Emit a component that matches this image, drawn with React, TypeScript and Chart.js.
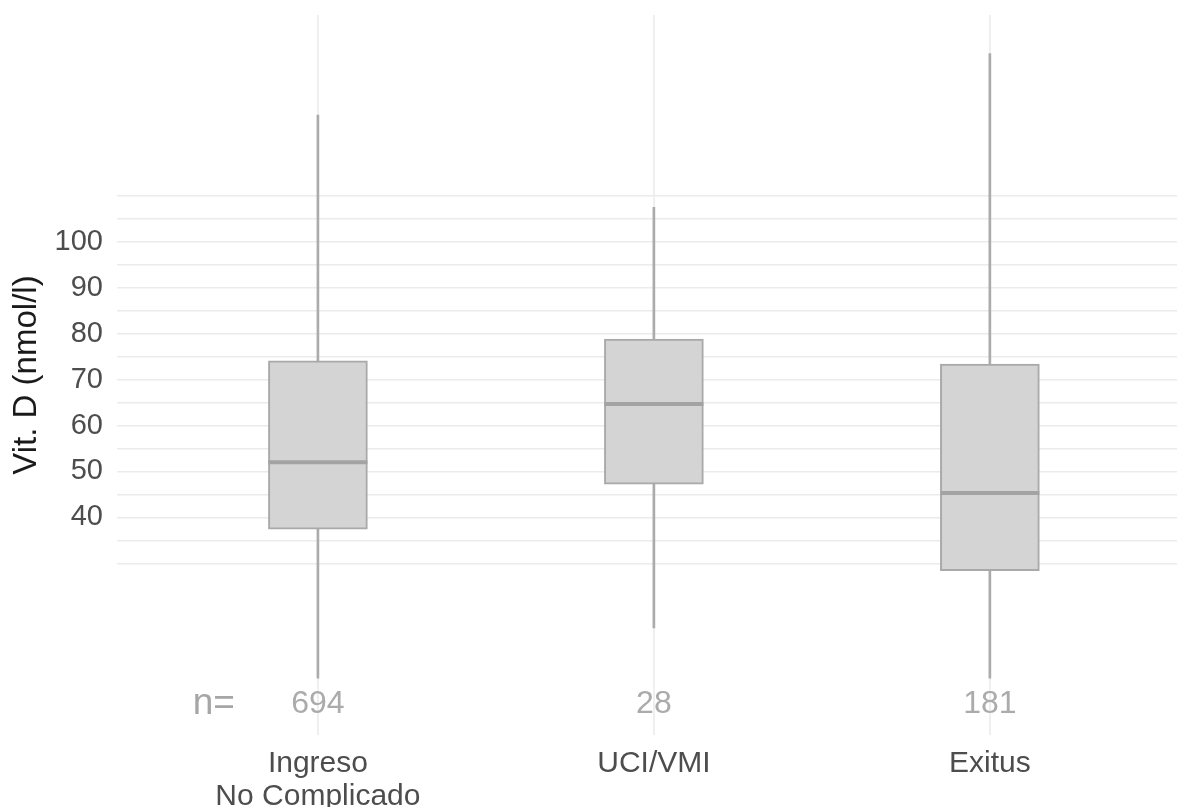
import React, { useEffect, useRef } from "react";
import { Chart, registerables } from "chart.js";

Chart.register(...registerables);

const categories: string[][] = [["Ingreso", "No Complicado"], ["UCI/VMI"], ["Exitus"]];
const positions = [1, 2, 3];
const whiskerLow = [5.0, 15.9, 5.0];
const whiskerHigh = [127.6, 107.5, 141.0];
const q1 = [37.4, 47.2, 28.4];
const median = [52.0, 64.7, 45.3];
const q3 = [74.1, 78.8, 73.4];
const nCounts = ["694", "28", "181"];
const nPrefix = "n=";
const gridValues = [30, 35, 40, 45, 50, 55, 60, 65, 70, 75, 80, 85, 90, 95, 100, 105, 110];
const labelledValues = [40, 50, 60, 70, 80, 90, 100];

const FONT = "'Liberation Sans', Arial, Helvetica, sans-serif";

const nLabelsPlugin = {
  id: "nLabels",
  afterDatasetsDraw(chart: any) {
    const { ctx, chartArea, scales } = chart;
    const y = chartArea.bottom - 31;
    ctx.save();
    ctx.textAlign = "center";
    ctx.textBaseline = "middle";
    ctx.fillStyle = "#a6a6a6";
    ctx.font = `37px ${FONT}`;
    ctx.fillText(nPrefix, scales.x.getPixelForValue(0.69), y);
    ctx.fillStyle = "#ababab";
    ctx.font = `32px ${FONT}`;
    nCounts.forEach((n, i) => {
      ctx.fillText(n, scales.x.getPixelForValue(positions[i]), y);
    });
    ctx.restore();
  },
};

export default function App() {
  const ref = useRef<HTMLCanvasElement | null>(null);
  useEffect(() => {
    if (!ref.current) return;
    const chart = new Chart(ref.current, {
      type: "bar",
      data: {
        datasets: [
          {
            type: "line",
            label: "median",
            data: positions.map((x, i) => ({ x, y: median[i] })),
            showLine: false,
            pointStyle: "line",
            pointRadius: 49.5,
            pointBorderWidth: 4,
            pointBorderColor: "#a3a3a3",
            pointBackgroundColor: "#a3a3a3",
            order: 1,
          } as any,
          {
            label: "box",
            data: positions.map((x, i) => ({ x, y: [q1[i], q3[i]] })),
            backgroundColor: "#d4d4d4",
            borderColor: "#a9a9a9",
            borderWidth: 2,
            borderSkipped: false,
            barThickness: 99,
            grouped: false,
            order: 2,
          } as any,
          {
            label: "whisker",
            data: positions.map((x, i) => ({ x, y: [whiskerLow[i], whiskerHigh[i]] })),
            backgroundColor: "#ababab",
            borderWidth: 0,
            barThickness: 2,
            grouped: false,
            order: 3,
          } as any,
        ],
      },
      options: {
        responsive: false,
        animation: false,
        events: [],
        layout: { autoPadding: false, padding: { left: 0, right: 0, top: 15, bottom: 0 } },
        plugins: { legend: { display: false }, tooltip: { enabled: false } },
        scales: {
          x: {
            type: "linear",
            min: 0.402,
            max: 3.557,
            offset: false,
            afterBuildTicks: (scale: any) => {
              scale.ticks = positions.map((v) => ({ value: v }));
            },
            afterFit: (scale: any) => {
              scale.height = 72;
              scale.paddingLeft = 0;
              scale.paddingRight = 0;
              scale.paddingTop = 0;
              scale.paddingBottom = 0;
            },
            border: { display: false },
            grid: { color: "#efefef", lineWidth: 2, drawTicks: false, offset: false },
            ticks: {
              padding: 12,
              color: "#4d4d4d",
              font: { family: FONT, size: 30, lineHeight: 1.1 },
              callback: (v: any) => {
                const i = positions.indexOf(Number(v));
                return i >= 0 ? categories[i] : "";
              },
              maxRotation: 0,
              autoSkip: false,
            },
          },
          y: {
            type: "linear",
            min: -7.4,
            max: 149.4,
            afterBuildTicks: (scale: any) => {
              scale.ticks = gridValues.map((v) => ({ value: v }));
            },
            afterFit: (scale: any) => {
              scale.width = 117;
              scale.paddingLeft = 0;
              scale.paddingRight = 0;
              scale.paddingTop = 0;
              scale.paddingBottom = 0;
            },
            border: { display: false },
            grid: { color: "#ebebeb", lineWidth: 1.5, drawTicks: false },
            ticks: {
              padding: 14,
              color: "#4d4d4d",
              font: { family: FONT, size: 29 },
              autoSkip: false,
              callback: (v: any) => (labelledValues.includes(Number(v)) ? String(v) : ""),
            },
            title: {
              display: true,
              text: "Vit. D (nmol/l)",
              color: "#1a1a1a",
              font: { family: FONT, size: 33 },
              padding: { top: 7, bottom: 0 },
            },
          },
        },
      },
      plugins: [nLabelsPlugin],
    });
    return () => chart.destroy();
  }, []);
  return (
    <div style={{ position: "absolute", left: 0, top: 0, width: 1177, height: 807, background: "#fff" }}>
      <canvas ref={ref} width={1177} height={807} />
    </div>
  );
}
